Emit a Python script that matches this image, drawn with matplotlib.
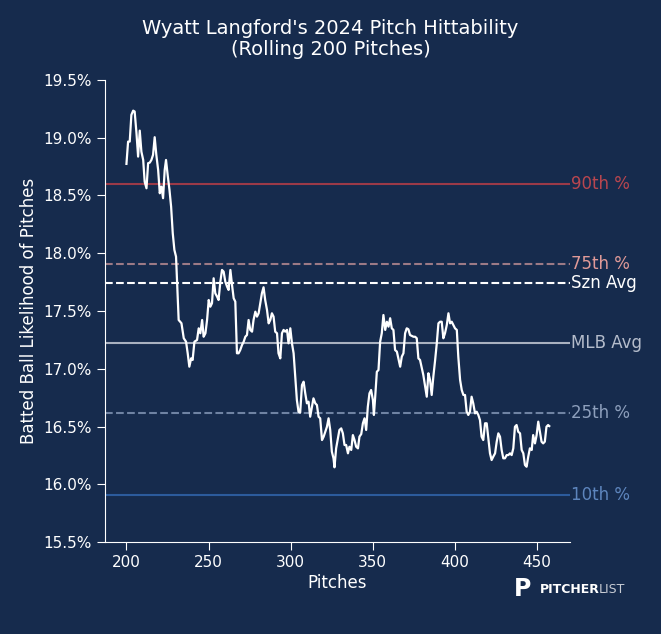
import numpy as np
import matplotlib
matplotlib.use("Agg")
import matplotlib.pyplot as plt
from matplotlib.ticker import FuncFormatter
import matplotlib.transforms as mtransforms

# rolling hittability
pitches = [
    200.0, 201.0, 202.0, 203.0, 204.1, 205.0, 206.1, 207.1, 208.1, 209.1,
    210.2, 211.1, 212.2, 213.2, 214.2, 215.2, 216.2, 217.2, 218.2, 219.3,
    220.3, 221.3, 222.3, 223.3, 224.1, 225.1, 226.2, 227.2, 228.2, 229.2,
    230.2, 230.8, 231.8, 233.5, 234.9, 236.3, 237.3, 238.3, 239.4, 240.3,
    241.4, 243.0, 244.0, 245.0, 246.1, 247.0, 248.1, 249.1, 250.1, 251.1,
    252.1, 253.1, 254.1, 255.2, 256.1, 257.2, 258.2, 259.2, 260.2, 261.3,
    262.2, 263.3, 264.3, 265.3, 266.3, 267.3, 268.3, 269.3, 270.4, 271.4,
    272.4, 273.4, 274.4, 275.4, 276.5, 277.4, 278.5, 279.5, 280.5, 281.5,
    282.5, 283.5, 284.5, 285.6, 286.6, 287.6, 288.6, 289.6, 290.6, 291.7,
    292.6, 293.7, 294.7, 295.7, 296.7, 297.8, 298.7, 299.8, 300.8, 301.8,
    302.8, 303.8, 304.8, 305.8, 306.9, 307.9, 308.9, 309.9, 310.9, 311.9,
    313.0, 313.9, 315.0, 316.0, 317.0, 318.0, 319.1, 320.1, 321.1, 322.1,
    323.1, 324.1, 325.1, 326.1, 326.7, 327.7, 328.8, 329.7, 330.8, 331.8,
    332.8, 333.8, 334.9, 335.8, 336.9, 337.9, 338.9, 339.9, 341.0, 341.9,
    343.0, 344.0, 345.0, 346.0, 347.0, 348.0, 349.0, 350.1, 350.7, 351.5,
    352.5, 353.5, 354.5, 355.5, 356.5, 357.6, 358.6, 359.6, 360.6, 361.6,
    362.6, 363.6, 364.7, 365.6, 366.7, 367.7, 368.7, 369.7, 370.7, 371.7,
    372.7, 373.8, 374.8, 375.8, 376.8, 377.8, 378.8, 379.9, 380.8, 381.9,
    382.9, 383.9, 384.9, 385.9, 386.9, 388.0, 389.0, 390.0, 391.0, 392.0,
    393.0, 394.0, 395.1, 396.1, 397.1, 398.1, 399.1, 400.1, 401.2, 402.1,
    403.2, 404.2, 405.2, 406.2, 407.2, 408.2, 409.2, 410.2, 411.2, 412.3,
    413.3, 414.3, 415.3, 416.3, 417.3, 418.4, 419.4, 420.4, 421.4, 422.4,
    423.4, 424.5, 425.5, 426.5, 427.5, 428.5, 429.5, 430.5, 431.6, 432.6,
    433.6, 434.6, 435.6, 436.6, 437.6, 438.6, 439.7, 440.7, 441.7, 442.7,
    443.7, 444.7, 445.7, 446.8, 447.7, 448.8, 449.8, 450.8, 451.8, 452.8,
    453.8, 454.8, 455.8, 456.8, 457.5,
]
hittability = [
    18.773, 18.966, 18.966, 19.197, 19.234, 19.226, 19.041, 18.836, 19.061, 18.879,
    18.807, 18.619, 18.562, 18.779, 18.784, 18.807, 18.851, 19.004, 18.851, 18.721,
    18.519, 18.576, 18.476, 18.721, 18.807, 18.677, 18.548, 18.403, 18.173, 18.028,
    17.970, 17.768, 17.422, 17.394, 17.264, 17.234, 17.134, 17.018, 17.090, 17.076,
    17.234, 17.249, 17.350, 17.307, 17.422, 17.277, 17.307, 17.422, 17.595, 17.537,
    17.567, 17.783, 17.653, 17.624, 17.595, 17.754, 17.855, 17.840, 17.754, 17.710,
    17.682, 17.855, 17.725, 17.610, 17.581, 17.134, 17.134, 17.162, 17.206, 17.234,
    17.277, 17.292, 17.422, 17.336, 17.321, 17.422, 17.494, 17.451, 17.480, 17.567,
    17.653, 17.705, 17.595, 17.509, 17.393, 17.422, 17.480, 17.451, 17.321, 17.307,
    17.134, 17.090, 17.307, 17.336, 17.321, 17.336, 17.220, 17.350, 17.220, 17.134,
    16.931, 16.729, 16.628, 16.620, 16.859, 16.888, 16.787, 16.701, 16.715, 16.585,
    16.671, 16.744, 16.701, 16.686, 16.585, 16.571, 16.383, 16.412, 16.455, 16.498,
    16.571, 16.470, 16.282, 16.225, 16.147, 16.311, 16.398, 16.470, 16.484, 16.441,
    16.340, 16.340, 16.268, 16.325, 16.297, 16.426, 16.383, 16.325, 16.311, 16.412,
    16.435, 16.528, 16.571, 16.470, 16.671, 16.787, 16.816, 16.729, 16.600, 16.758,
    16.974, 16.989, 17.234, 17.307, 17.465, 17.336, 17.407, 17.364, 17.437, 17.350,
    17.336, 17.162, 17.148, 17.090, 17.018, 17.105, 17.134, 17.307, 17.350, 17.342,
    17.292, 17.284, 17.277, 17.277, 17.264, 17.090, 17.076, 17.004, 16.946, 16.845,
    16.758, 16.961, 16.903, 16.773, 16.931, 17.076, 17.220, 17.393, 17.407, 17.407,
    17.264, 17.307, 17.379, 17.480, 17.393, 17.407, 17.379, 17.350, 17.336, 17.105,
    16.903, 16.816, 16.773, 16.773, 16.628, 16.600, 16.628, 16.758, 16.701, 16.614,
    16.628, 16.600, 16.556, 16.412, 16.383, 16.528, 16.528, 16.398, 16.268, 16.210,
    16.239, 16.268, 16.369, 16.441, 16.412, 16.297, 16.225, 16.225, 16.253, 16.253,
    16.268, 16.253, 16.311, 16.498, 16.513, 16.455, 16.441, 16.297, 16.268, 16.167,
    16.152, 16.239, 16.311, 16.297, 16.426, 16.354, 16.426, 16.542, 16.455, 16.369,
    16.354, 16.369, 16.498, 16.513, 16.504,
]

ref_labels = ["90th %", "75th %", "Szn Avg", "MLB Avg", "25th %", "10th %"]
ref_values = [18.60, 17.91, 17.745, 17.225, 16.615, 15.905]
ref_line_colors = ["#9b3a48", "#9c7a86", "#ffffff", "#a9b1c0", "#6f83a3", "#2c5b9c"]
ref_text_colors = ["#b8464f", "#e09a98", "#ffffff", "#b4bccb", "#8d9fbc", "#5d85bd"]
ref_styles = ["-", "--", "--", "-", "--", "-"]

bg = "#162b4d"

fig = plt.figure(figsize=(6.61, 6.34), dpi=100, facecolor=bg)
ax = fig.add_axes([0.159, 0.145, 0.703, 0.729])
ax.set_facecolor(bg)

trans = mtransforms.blended_transform_factory(ax.transAxes, ax.transData)
for lab, v, lc, tc, ls in zip(ref_labels, ref_values, ref_line_colors, ref_text_colors, ref_styles):
    ax.axhline(v, color=lc, linestyle=ls, linewidth=1.5, zorder=1)
    ax.text(1.002, v, lab, transform=trans, color=tc, fontsize=12,
            va="center", ha="left")

ax.plot(pitches, hittability, color="white", linewidth=1.6, zorder=3)

ax.set_xlim(187, 470)
ax.set_ylim(15.5, 19.5)
ax.set_yticks(np.arange(15.5, 19.51, 0.5))
ax.set_xticks([200, 250, 300, 350, 400, 450])
ax.yaxis.set_major_formatter(FuncFormatter(lambda v, p: f"{v:.1f}%"))

for s in ["top", "right"]:
    ax.spines[s].set_visible(False)
for s in ["left", "bottom"]:
    ax.spines[s].set_color("white")
ax.tick_params(colors="white", labelsize=11, length=6)

ax.set_xlabel("Pitches", color="white", fontsize=12, labelpad=3)
ax.set_ylabel("Batted Ball Likelihood of Pitches", color="white", fontsize=12)
fig.text(0.5, 0.938, "Wyatt Langford's 2024 Pitch Hittability\n(Rolling 200 Pitches)",
         color="white", fontsize=14, ha="center", va="center", linespacing=1.15)

# logo
fig.text(0.778, 0.071, "P", color="white", fontsize=17, fontweight="bold",
         va="center", ha="left")
fig.text(0.816, 0.070, "PITCHER", color="white", fontsize=9, fontweight="bold",
         va="center", ha="left")
fig.text(0.9055, 0.070, "LIST", color="#c8ccd4", fontsize=9,
         va="center", ha="left")

fig.savefig("out.png", dpi=100, facecolor=bg)
